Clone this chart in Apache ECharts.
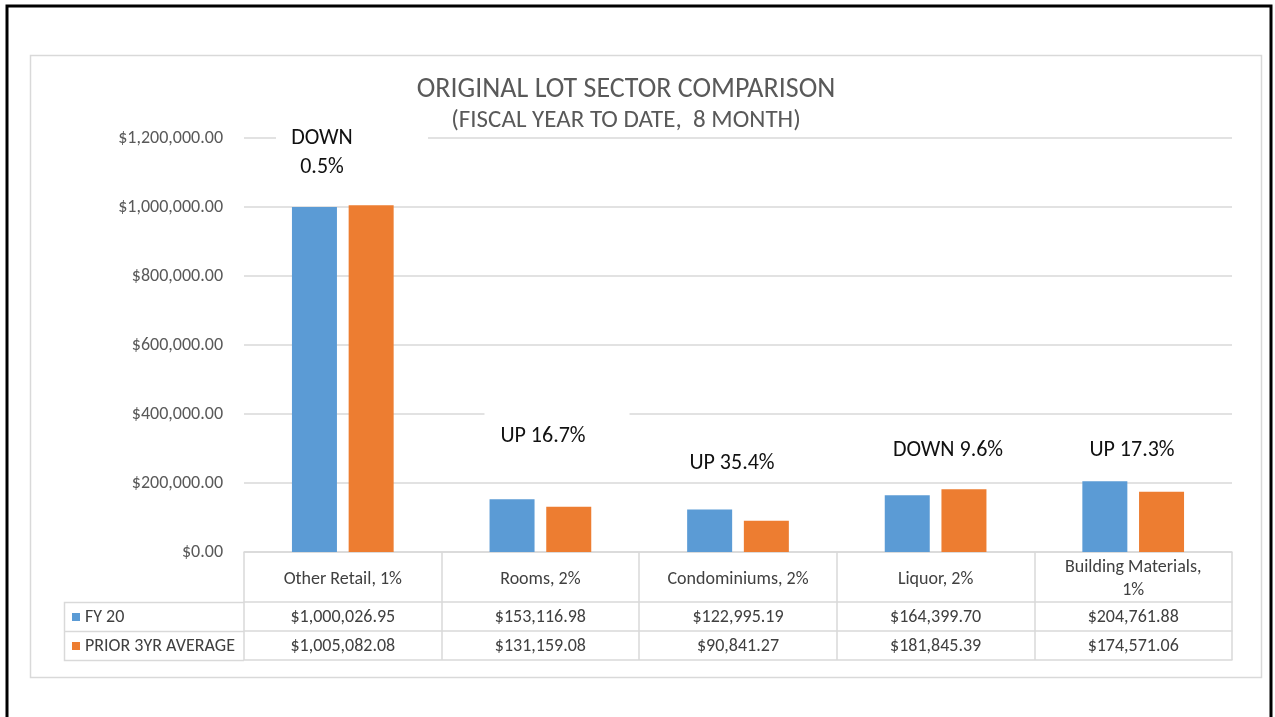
<!DOCTYPE html>
<html>
<head>
<meta charset="utf-8">
<script src="https://cdn.jsdelivr.net/npm/echarts@6/dist/echarts.min.js"></script>
<style>
  html, body { margin: 0; padding: 0; background: #ffffff; }
  #chart { width: 1275px; height: 717px; }
</style>
</head>
<body>
<div id="chart"></div>
<script>
// ---- Data ----
const categories = ['Other Retail, 1%', 'Rooms, 2%', 'Condominiums, 2%', 'Liquor, 2%', 'Building Materials,\n1%'];
const fy20 = [1000026.95, 153116.98, 122995.19, 164399.70, 204761.88];
const prior3yr = [1005082.08, 131159.08, 90841.27, 181845.39, 174571.06];
const seriesNames = ['FY 20', 'PRIOR 3YR AVERAGE'];
const annotations = ['DOWN\n0.5%', 'UP 16.7%', 'UP 35.4%', 'DOWN 9.6%', 'UP 17.3%'];
const titleText = 'ORIGINAL LOT SECTOR COMPARISON';
const subtitleText = '(FISCAL YEAR TO DATE,  8 MONTH)';

// ---- Styles ----
const FONT = 'Carlito, Lato, "Open Sans", sans-serif';
const BLUE = '#5b9bd5';
const ORANGE = '#ed7d31';
const GRID = '#d9d9d9';
const TXT = '#595959';

function money(v) {
  return '$' + Number(v).toLocaleString('en-US', { minimumFractionDigits: 2, maximumFractionDigits: 2 });
}

const chart = echarts.init(document.getElementById('chart'), null, { renderer: 'canvas' });

const tableLabel = {
  interval: 0, fontFamily: FONT, fontSize: 18, color: '#404040',
  verticalAlign: 'middle', margin: 15
};

// annotation placement: text centre and the white text-box behind it (covers gridlines like the source)
const annoBoxes = [
  { tx: 322, ty: 153, cx: 352, cy: 150, w: 152, h: 60 },
  { tx: 543, ty: 436, cx: 557, cy: 430, w: 145, h: 40 },
  { tx: 732, ty: 463, cx: 732, cy: 463, w: 100, h: 24 },
  { tx: 948, ty: 450, cx: 948, cy: 450, w: 125, h: 24 },
  { tx: 1132, ty: 450, cx: 1132, cy: 450, w: 100, h: 24 }
];

const graphics = [
  // outer black frame
  { type: 'rect', z: 100, silent: true, shape: { x: 7, y: 6, width: 1264, height: 800 },
    style: { fill: 'none', stroke: '#000000', lineWidth: 3 } },
  // inner chart area border
  { type: 'rect', z: 1, silent: true, shape: { x: 30.5, y: 55.5, width: 1231, height: 622 },
    style: { fill: 'none', stroke: GRID, lineWidth: 1.5 } },
  // title
  { type: 'text', z: 50, x: 626, y: 90, style: { text: titleText, fontFamily: FONT, fontSize: 28, fontWeight: 300,
      fill: TXT, align: 'center', verticalAlign: 'middle' } },
  { type: 'text', z: 50, x: 626, y: 121, style: { text: subtitleText, fontFamily: FONT, fontSize: 25, fontWeight: 300,
      fill: TXT, align: 'center', verticalAlign: 'middle' } },
  // legend column of data table
  { type: 'polyline', z: 5, silent: true, shape: { points: [[244, 602.5], [64.5, 602.5], [64.5, 660.5], [244, 660.5]] },
    style: { fill: 'none', stroke: GRID, lineWidth: 1.5 } },
  { type: 'line', z: 5, silent: true, shape: { x1: 64.5, y1: 631.5, x2: 244, y2: 631.5 },
    style: { stroke: GRID, lineWidth: 1.5 } }
];

annotations.forEach(function (t, i) {
  const b = annoBoxes[i];
  graphics.push({ type: 'rect', z: 40, silent: true,
    shape: { x: b.cx - b.w / 2, y: b.cy - b.h / 2, width: b.w, height: b.h },
    style: { fill: '#ffffff' } });
  graphics.push({ type: 'text', z: 41, x: b.tx, y: b.ty,
    style: { text: t, fontFamily: FONT, fontSize: 22, fill: '#111111', align: 'center',
      verticalAlign: 'middle', lineHeight: 29 } });
});

const option = {
  backgroundColor: '#ffffff',
  animation: false,
  textStyle: { fontFamily: FONT },
  grid: { left: 244, right: 43, top: 138, bottom: 165, containLabel: false },
  legend: {
    data: seriesNames,
    orient: 'vertical', left: 72, top: 608, itemGap: 11, padding: 0,
    icon: 'rect', itemWidth: 8, itemHeight: 8,
    textStyle: { fontFamily: FONT, fontSize: 18, color: '#404040', lineHeight: 18 },
    selectedMode: false
  },
  xAxis: [
    {
      type: 'category', data: categories, position: 'bottom',
      axisLine: { show: true, lineStyle: { color: GRID, width: 1.5 } },
      axisTick: { show: true, length: 50, lineStyle: { color: GRID, width: 1.5 } },
      axisLabel: Object.assign({}, tableLabel, { margin: 27, lineHeight: 23 })
    },
    {
      type: 'category', data: fy20.map(money), position: 'bottom', offset: 50,
      axisLine: { show: true, lineStyle: { color: GRID, width: 1.5 } },
      axisTick: { show: true, length: 29, lineStyle: { color: GRID, width: 1.5 } },
      axisLabel: tableLabel
    },
    {
      type: 'category', data: prior3yr.map(money), position: 'bottom', offset: 79,
      axisLine: { show: true, lineStyle: { color: GRID, width: 1.5 } },
      axisTick: { show: true, length: 29, lineStyle: { color: GRID, width: 1.5 } },
      axisLabel: tableLabel
    },
    {
      type: 'category', data: categories, position: 'bottom', offset: 108,
      axisLine: { show: true, lineStyle: { color: GRID, width: 1.5 } },
      axisTick: { show: false }, axisLabel: { show: false }
    }
  ],
  yAxis: {
    type: 'value', min: 0, max: 1200000, interval: 200000,
    axisLine: { show: false }, axisTick: { show: false },
    axisLabel: { formatter: money, fontFamily: FONT, fontSize: 18, color: TXT, margin: 21 },
    splitLine: { lineStyle: { color: GRID, width: 1.5 } }
  },
  series: [
    { name: seriesNames[0], type: 'bar', data: fy20, barWidth: 45, barGap: '26%',
      itemStyle: { color: BLUE } },
    { name: seriesNames[1], type: 'bar', data: prior3yr, barWidth: 45, barGap: '26%',
      itemStyle: { color: ORANGE } }
  ],
  graphic: graphics
};

chart.setOption(option);
</script>
</body>
</html>
